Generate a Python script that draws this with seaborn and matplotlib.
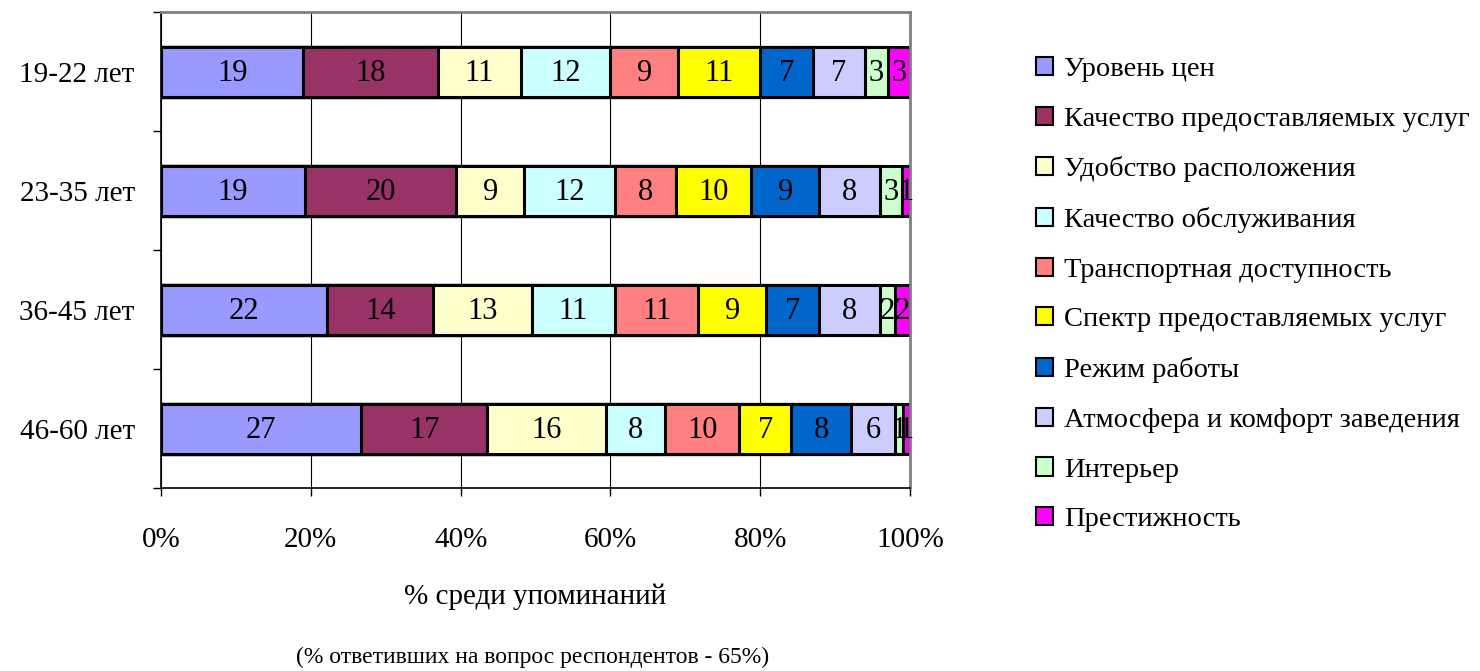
import numpy as np
import pandas as pd
import matplotlib.pyplot as plt
import seaborn as sns
from matplotlib.patches import Patch
from matplotlib.ticker import FixedLocator

sns.set_style("white")
plt.rcParams['font.family'] = ['Liberation Serif', 'DejaVu Serif']
plt.rcParams['text.color'] = 'black'
plt.rcParams['xtick.color'] = 'black'
plt.rcParams['ytick.color'] = 'black'
plt.rcParams['axes.labelcolor'] = 'black'

groups = ['19-22 лет', '23-35 лет', '36-45 лет', '46-60 лет']
factors = ['Уровень цен', 'Качество предоставляемых услуг', 'Удобство расположения',
           'Качество обслуживания', 'Транспортная доступность', 'Спектр предоставляемых услуг',
           'Режим работы', 'Атмосфера и комфорт заведения', 'Интерьер', 'Престижность']
colors = ['#9999FF', '#993366', '#FFFFCC', '#CCFFFF', '#FF8080',
          '#FFFF00', '#0066CC', '#CCCCFF', '#CCFFCC', '#FF00FF']

v_19_22 = [19, 18, 11, 12, 9, 11, 7, 7, 3, 3]
v_23_35 = [19, 20, 9, 12, 8, 10, 9, 8, 3, 1]
v_36_45 = [22, 14, 13, 11, 11, 9, 7, 8, 2, 2]
v_46_60 = [27, 17, 16, 8, 10, 7, 8, 6, 1, 1]

xticks = [0, 20, 40, 60, 80, 100]
xtick_labels = ['0%', '20%', '40%', '60%', '80%', '100%']

vals = np.array([v_19_22, v_23_35, v_36_45, v_46_60], dtype=float)
pct = vals / vals.sum(axis=1, keepdims=True) * 100
cum = np.cumsum(pct, axis=1)

fig = plt.figure(figsize=(14.8, 6.71), dpi=100)
ax = fig.add_axes([0.1088, 0.2727, 0.5061, 0.7094])

# stacked bars: draw cumulative totals from the longest down
for i in range(len(factors) - 1, -1, -1):
    df = pd.DataFrame({'group': groups, 'cum': cum[:, i]})
    sns.barplot(data=df, x='cum', y='group', color=colors[i], orient='h',
                width=0.42, edgecolor='black', linewidth=2.2, saturation=1, ax=ax, zorder=2)

# value labels
for g in range(len(groups)):
    for i in range(len(factors)):
        xc = cum[g, i] - pct[g, i] / 2
        ax.text(xc, g + 0.02, '%d' % vals[g, i], ha='center', va='center', fontsize=22, zorder=5)

ax.set_xlim(0, 100)
ax.set_ylim(3.5, -0.5)
ax.set_xticks(xticks)
ax.set_xticklabels(xtick_labels, fontsize=21)
ax.set_yticks(range(len(groups)))
ax.set_yticklabels(groups, fontsize=21)
ax.yaxis.set_minor_locator(FixedLocator([-0.5, 0.5, 1.5, 2.5, 3.5]))
ax.tick_params(axis='y', which='major', length=0, pad=19)
ax.tick_params(axis='y', which='minor', length=6, width=1, color='black', left=True)
ax.tick_params(axis='x', which='major', length=6, width=1, color='black', bottom=True, pad=22)
ax.xaxis.grid(True, color='black', linewidth=0.8, zorder=0)
ax.set_axisbelow(True)
ax.set_xlabel('% среди упоминаний', fontsize=21, labelpad=22)
ax.set_ylabel('')

for s in ['left', 'bottom']:
    ax.spines[s].set_color('black')
    ax.spines[s].set_linewidth(1.2)
for s in ['top', 'right']:
    ax.spines[s].set_color('#808080')
    ax.spines[s].set_linewidth(2)

fig.text(0.36, 0.004, '(% ответивших на вопрос респондентов - 65%)', ha='center', va='bottom', fontsize=17)

handles = [Patch(facecolor=c, edgecolor='black', linewidth=1.5) for c in colors]
fig.legend(handles, factors, loc='upper left', bbox_to_anchor=(0.692, 0.932), frameon=False,
           fontsize=20.5, handlelength=0.6, handleheight=0.6, handletextpad=0.4, labelspacing=0.865,
           borderaxespad=0)

fig.savefig('out.png', dpi=100)
